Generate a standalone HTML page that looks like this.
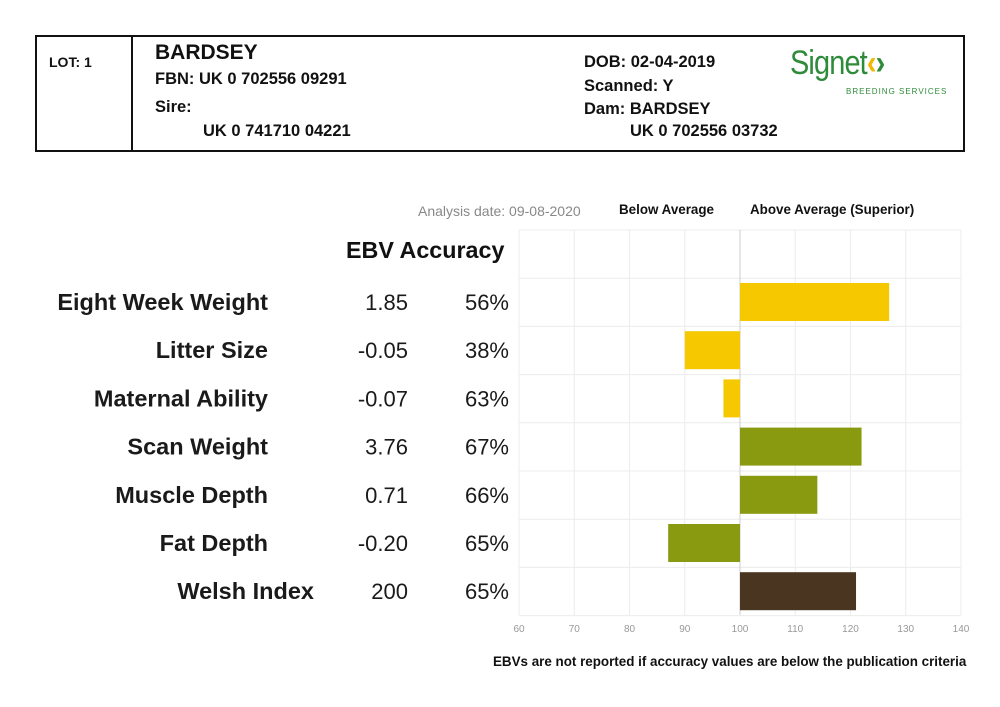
<!DOCTYPE html>
<html><head><meta charset="utf-8"><style>
body{margin:0;width:1000px;height:707px;background:#fff;font-family:"Liberation Sans",Arial,sans-serif;position:relative;overflow:hidden;color:#111}
.a{position:absolute;white-space:nowrap}
.hb{font-weight:bold;font-size:16.5px}
</style></head><body>
<div class="a" style="left:35px;top:35px;width:926px;height:113px;border:2px solid #111"></div>
<div class="a" style="left:131px;top:36px;width:2px;height:114px;background:#111"></div>
<div class="a hb" style="left:49px;top:54px;font-size:14px">LOT: 1</div>
<div class="a" style="left:155px;top:41px;font-size:21px;font-weight:bold">BARDSEY</div>
<div class="a hb" style="left:155px;top:70px">FBN: UK 0 702556 09291</div>
<div class="a hb" style="left:155px;top:98px">Sire:</div>
<div class="a hb" style="left:203px;top:122px">UK 0 741710 04221</div>
<div class="a hb" style="left:584px;top:53px">DOB: 02-04-2019</div>
<div class="a hb" style="left:584px;top:77px">Scanned: Y</div>
<div class="a hb" style="left:584px;top:100px">Dam: BARDSEY</div>
<div class="a hb" style="left:630px;top:122px">UK 0 702556 03732</div>
<div class="a" style="left:790px;top:44px;font-size:34px;color:#2e8b3a;letter-spacing:-1px;transform:scaleX(0.85);transform-origin:left">Signet<span style="color:#f0b800;font-weight:bold">‹</span><span style="color:#2e8b3a;font-weight:bold">›</span></div>
<div class="a" style="left:846px;top:87px;font-size:8px;color:#2e8b3a;letter-spacing:1px">BREEDING SERVICES</div>

<div class="a" style="left:418px;top:203px;font-size:14px;color:#888">Analysis date: 09-08-2020</div>
<div class="a" style="left:619px;top:202px;font-size:13.4px;font-weight:bold">Below Average</div>
<div class="a" style="left:750px;top:202px;font-size:13.4px;font-weight:bold">Above Average (Superior)</div>
<div class="a" style="left:346px;top:237px;font-size:23.3px;font-weight:bold">EBV Accuracy</div>
<div class="a" style="left:493px;top:654px;font-size:13.4px;font-weight:bold">EBVs are not reported if accuracy values are below the publication criteria</div>

<svg class="a" id="chart" style="left:0;top:0" width="1000" height="707"></svg>
<script>
const traits=["Eight Week Weight","Litter Size","Maternal Ability","Scan Weight","Muscle Depth","Fat Depth","Welsh Index"];
const ebvs=["1.85","-0.05","-0.07","3.76","0.71","-0.20","200"];
const accuracies=["56%","38%","63%","67%","66%","65%","65%"];
const scores=[127,90,97,122,114,87,121];
const colors=["#f5c800","#f5c800","#f5c800","#8a9a10","#8a9a10","#8a9a10","#4a3520"];
const ticks=[60,70,80,90,100,110,120,130,140];
const svg=document.getElementById('chart');const NS="http://www.w3.org/2000/svg";
const x=v=>519+(v-60)*(961-519)/80;
const rowTop=i=>278+i*48.2;
function mk(t,a,txt){const e=document.createElementNS(NS,t);for(const k in a)e.setAttribute(k,a[k]);if(txt!==undefined)e.textContent=txt;svg.appendChild(e);return e;}
for(let i=0;i<=8;i++){const y=230+i*48.2;const l=mk('line',{x1:519,x2:961,y1:y,y2:y,stroke:'#ececec'});

}
ticks.forEach(t=>{const l=mk('line',{x1:x(t),x2:x(t),y1:230,y2:615,stroke:t===100?'#ccc':'#ececec'});


const tx=mk('text',{x:x(t),y:632,'font-size':10,fill:'#999','text-anchor':'middle','font-family':'Liberation Sans'},t);

});
traits.forEach((n,i)=>{const y0=rowTop(i);const cy=y0+24;
const v=scores[i];const r=mk('rect',{x:Math.min(x(v),x(100)),y:y0+5,width:Math.abs(x(v)-x(100)),height:38,fill:colors[i]});


const t1=mk('text',{x:i===6?314:268,y:cy+8,'font-size':23.5,'font-weight':'bold',fill:'#1a1a1a','text-anchor':'end','font-family':'Liberation Sans'},n);


const t2=mk('text',{x:408,y:cy+8,'font-size':22,fill:'#1a1a1a','text-anchor':'end','font-family':'Liberation Sans'},ebvs[i]);


const t3=mk('text',{x:509,y:cy+8,'font-size':22,fill:'#1a1a1a','text-anchor':'end','font-family':'Liberation Sans'},accuracies[i]);

});
</script>
</body></html>
